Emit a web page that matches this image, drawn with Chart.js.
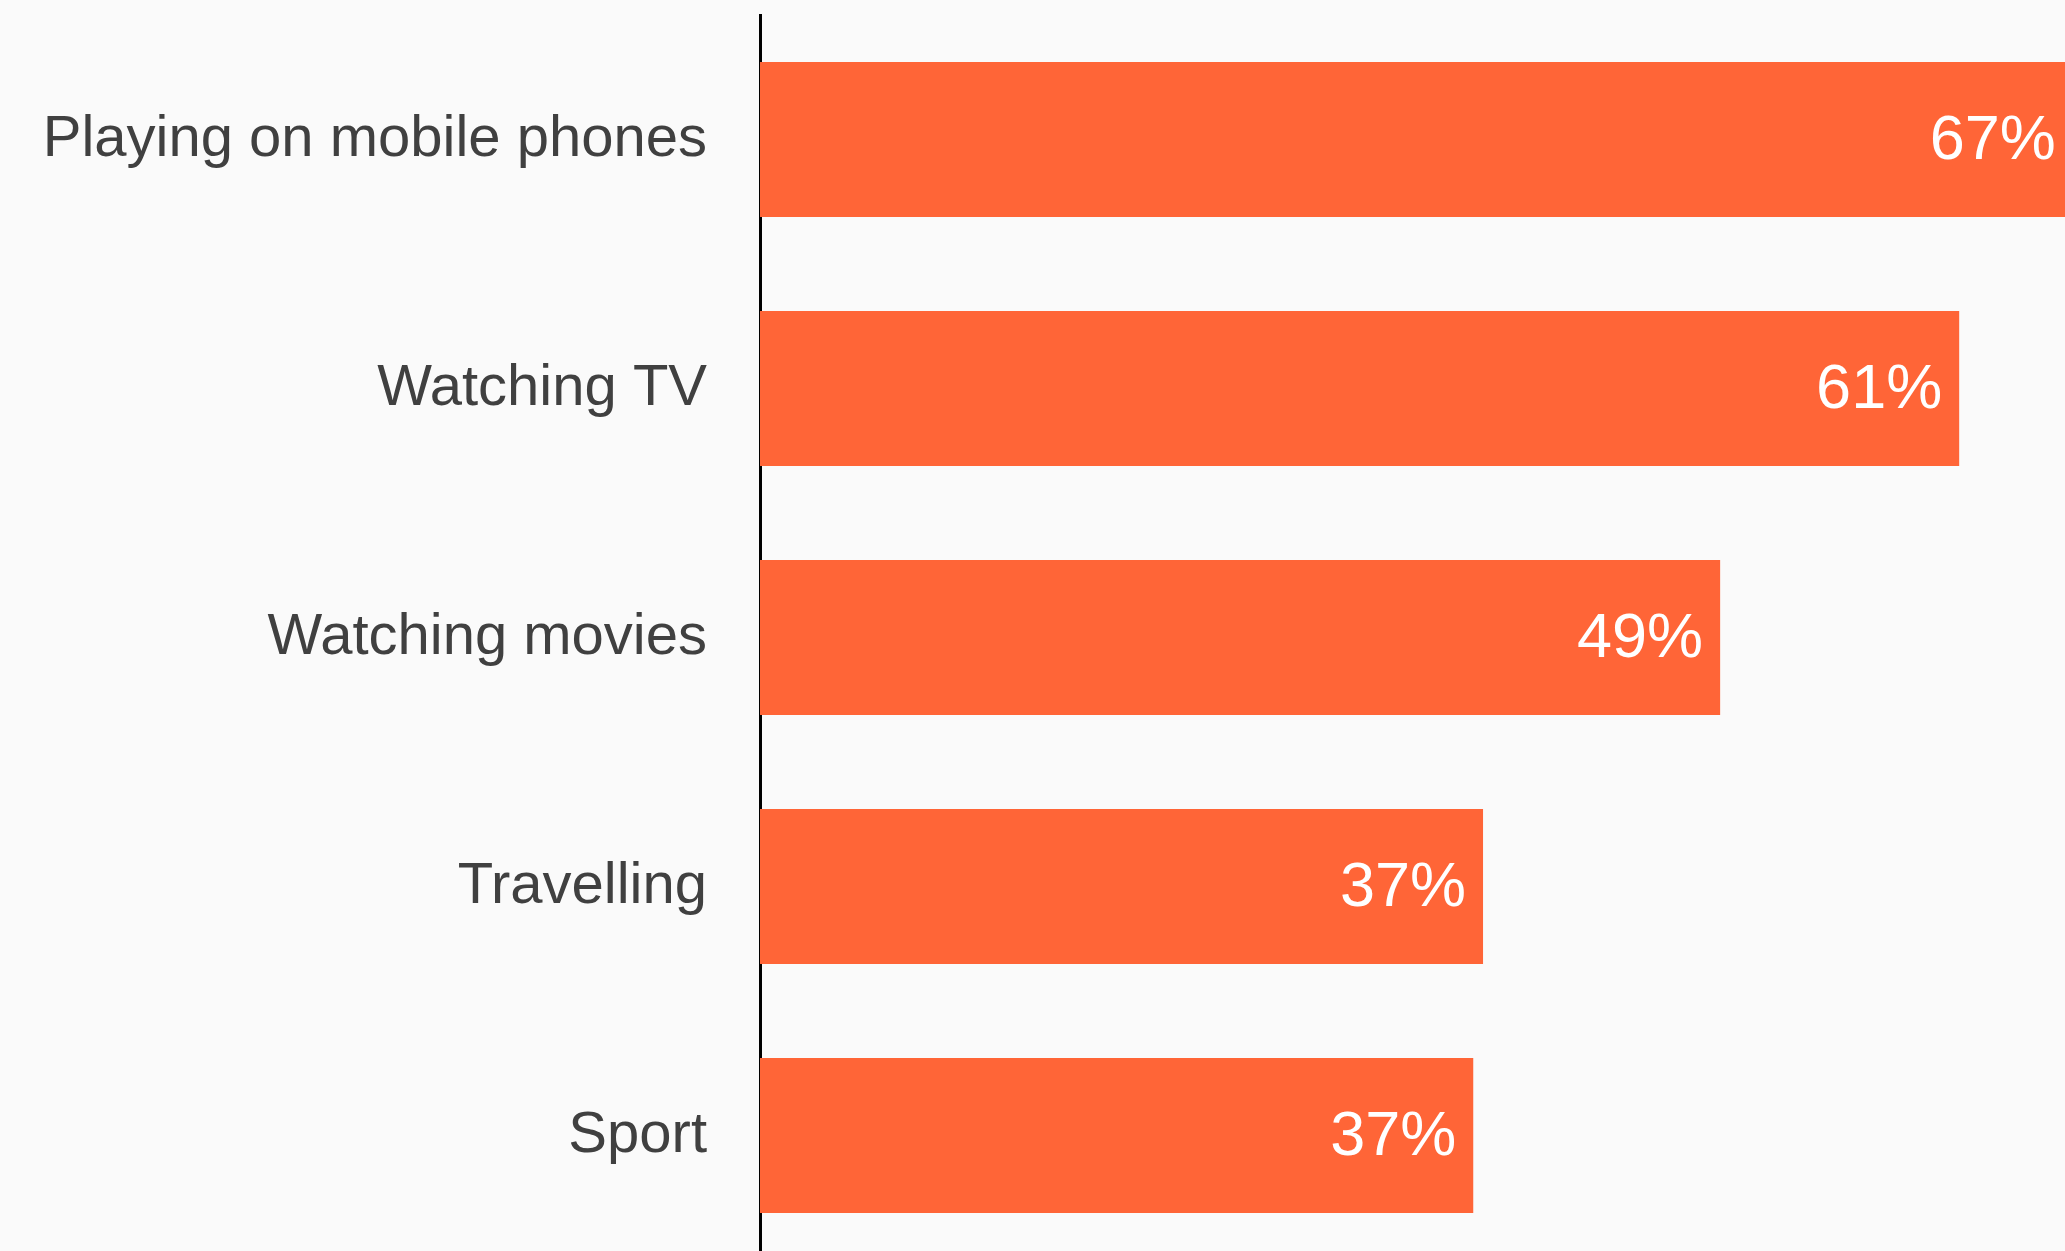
<!DOCTYPE html>
<html>
<head>
<meta charset="utf-8">
<script src="https://cdn.jsdelivr.net/npm/chart.js@4/dist/chart.umd.min.js"></script>
<style>
    html, body {
        margin: 0;
        padding: 0;
        background: #fafafa;
        overflow: hidden;
    }
    #wrap {
        width: 2065px;
        height: 1260px;
    }
</style>
</head>
<body>
<div id="wrap"><canvas id="activityChart"></canvas></div>
<script>

const categories = [
    "Playing on mobile phones",
    "Watching TV",
    "Watching movies",
    "Travelling",
    "Sport"
];

const shares = [67, 61.2, 49, 36.9, 36.4];

const shareLabels = ["67%", "61%", "49%", "37%", "37%"];

const xMax = 66.6;

const barColor = '#ff6537';

const valueLabels = {

    id: 'valueLabels',

    afterDatasetsDraw(chart) {

        const ctx = chart.ctx;
        const bars = chart.getDatasetMeta(0).data;

        ctx.save();

        ctx.fillStyle = '#ffffff';
        ctx.font = '63px "Liberation Sans", Arial, sans-serif';
        ctx.textAlign = 'right';
        ctx.textBaseline = 'middle';

        bars.forEach((bar, i) => {
            ctx.fillText(shareLabels[i], bar.x - 17, bar.y + 2);
        });

        ctx.restore();
    }
};

const ctx = document.getElementById('activityChart');

const activityChart = new Chart(ctx, {

    type: 'bar',

    data: {
        labels: categories,
        datasets: [{
            data: shares,
            backgroundColor: barColor,
            borderWidth: 0,
            barPercentage: 0.623,
            categoryPercentage: 1
        }]
    },

    plugins: [valueLabels],

    options: {

        indexAxis: 'y',
        responsive: true,
        maintainAspectRatio: false,
        animation: false,
        devicePixelRatio: 1,

        layout: {
            padding: { top: 15, right: 0, bottom: 0, left: 0 }
        },

        plugins: {
            legend: { display: false },
            tooltip: { enabled: false }
        },

        scales: {

            x: {
                display: false,
                min: 0,
                max: xMax
            },

            y: {
                afterFit(scale) {
                    // fixed axis width, and no extra room for the end labels
                    scale.width = 760;
                    scale.paddingTop = 0;
                    scale.paddingBottom = 0;
                },
                grid: {
                    display: false,
                    drawTicks: false
                },
                border: {
                    display: true,
                    color: '#000000',
                    width: 3
                },
                ticks: {
                    padding: 53,
                    color: '#404040',
                    font: {
                        family: '"Liberation Sans", Arial, sans-serif',
                        size: 58
                    }
                }
            }
        }
    }
});

</script>
</body>
</html>
